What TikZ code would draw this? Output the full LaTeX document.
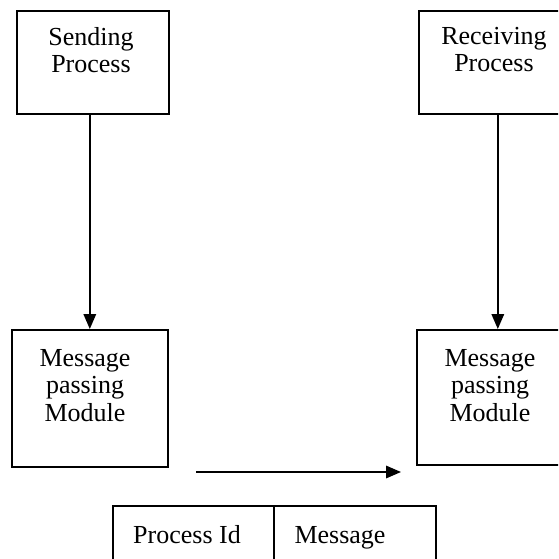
\documentclass[tikz,border=0pt]{standalone}
\usepackage{fontspec}
\setmainfont{Liberation Serif}
\usetikzlibrary{arrows.meta}
\begin{document}
\begin{tikzpicture}[x=1pt,y=-1pt,
  box/.style={draw=black,line width=1.6pt,minimum width=#1,anchor=north west,inner sep=0pt},
  lbl/.style={font=\fontsize{26}{27.5}\selectfont,align=center,inner sep=0pt,anchor=north},
  cell/.style={font=\fontsize{26}{27.5}\selectfont,inner sep=0pt,anchor=base},
  arr/.style={line width=1.7pt,-{Triangle[length=15pt,width=12.5pt]}}]
\useasboundingbox (0,0) rectangle (558,559);
\clip (0,0) rectangle (558,559);
\fill[white] (0,0) rectangle (558,559);
% boxes
\node[box=152pt,minimum height=103pt] (send) at (16,10) {};
\node[box=158pt,minimum height=103pt] (recv) at (418,10) {};
\node[box=156pt,minimum height=137pt] (msgL) at (11,329) {};
\node[box=158pt,minimum height=135pt] (msgR) at (416,329) {};
\node[box=161pt,minimum height=70pt] (pid) at (112,505) {};
\node[box=162pt,minimum height=70pt] (pmsg) at (273,505) {};
% texts
\node[lbl] (tsend) at (91,27) {Sending\\Process};
\node[lbl] (trecv) at (494,27) {Receiving\\Process};
\node[lbl] (tmsgL) at (85,349) {Message\\passing\\Module};
\node[lbl] (tmsgR) at (490,349) {Message\\passing\\Module};
\node[cell] (tpid) at (187,543) {Process Id};
\node[cell] (tpmsg) at (340,543) {Message};
% arrows
\draw[arr] (msgL.north |- send.south) -- (msgL.north);
\draw[arr] (recv.south) -- (recv.south |- msgR.north);
\coordinate (h1) at (196,472);
\coordinate (h2) at (401,472);
\draw[arr] (h1) -- (h2);
\end{tikzpicture}
\end{document}
